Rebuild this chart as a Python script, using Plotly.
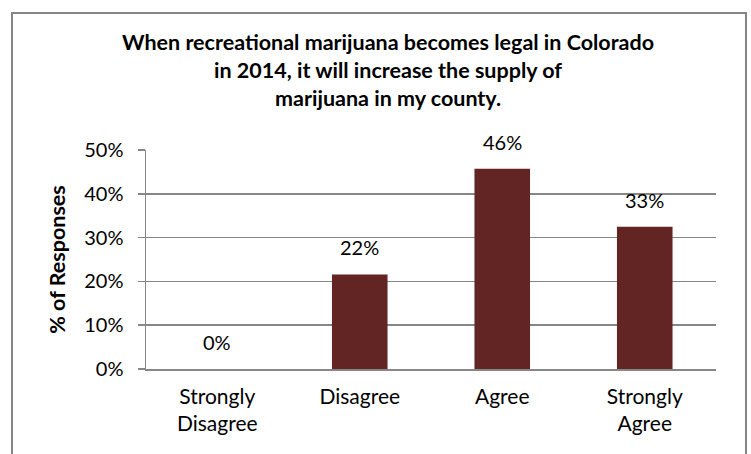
import plotly.graph_objects as go

categories = ["Strongly<br>Disagree", "Disagree", "Agree", "Strongly<br>Agree"]
values = [0.0, 0.216, 0.457, 0.325]
labels = ["0%", "22%", "46%", "33%"]
title_text = ("When recreational marijuana becomes legal in Colorado<br>"
              "in 2014, it will increase the supply of<br>"
              "marijuana in my county.")

FONT = "Lato, 'Open Sans', sans-serif"
GRID = "#868686"
BAR = "#632523"

fig = go.Figure(go.Bar(
    x=categories, y=values, marker=dict(color=BAR, line=dict(width=0)),
    width=0.39, hoverinfo="skip"))

for c, v, t in zip(categories, values, labels):
    fig.add_annotation(x=c, y=v, text=t, showarrow=False, yanchor="bottom",
                       yshift=13, font=dict(family=FONT, size=20, color="#000"))

fig.add_annotation(xref="paper", yref="paper", x=0.4246, y=1.56,
                   xanchor="center", yanchor="top", text="<b>" + title_text + "</b>",
                   showarrow=False, align="center",
                   font=dict(family=FONT, size=21.5, color="#000"))

fig.add_shape(type="rect", xref="paper", yref="paper",
              x0=-0.2351, x1=1.0526, y0=-0.6, y1=1.6256,
              line=dict(color="#858585", width=2), fillcolor="rgba(0,0,0,0)")

fig.update_layout(
    width=751, height=454,
    margin=dict(l=146, r=35, t=150, b=85, autoexpand=False),
    paper_bgcolor="white", plot_bgcolor="white",
    showlegend=False,
    font=dict(family=FONT, size=20, color="#000"),
)
fig.update_yaxes(range=[0, 0.5], dtick=0.1, tickformat=".0%",
                 showgrid=True, gridcolor=GRID, gridwidth=1.5,
                 showline=True, linecolor=GRID, linewidth=1.5,
                 ticks="outside", ticklen=7, tickcolor=GRID, tickwidth=1.5,
                 ticklabelstandoff=10, zeroline=False, automargin=False,
                 tickfont=dict(family=FONT, size=20),
                 title=dict(text="<b>% of Responses</b>", standoff=12,
                            font=dict(family=FONT, size=21.5)),
                 fixedrange=True)
fig.update_xaxes(showline=True, linecolor=GRID, linewidth=1.5, ticks="",
                 ticklabelstandoff=8, automargin=False,
                 tickfont=dict(family=FONT, size=21), fixedrange=True)

fig.write_html("out.html",
               config={"displayModeBar": False, "staticPlot": True},
               post_script="document.body.style.margin='0';document.body.style.overflow='hidden';")
